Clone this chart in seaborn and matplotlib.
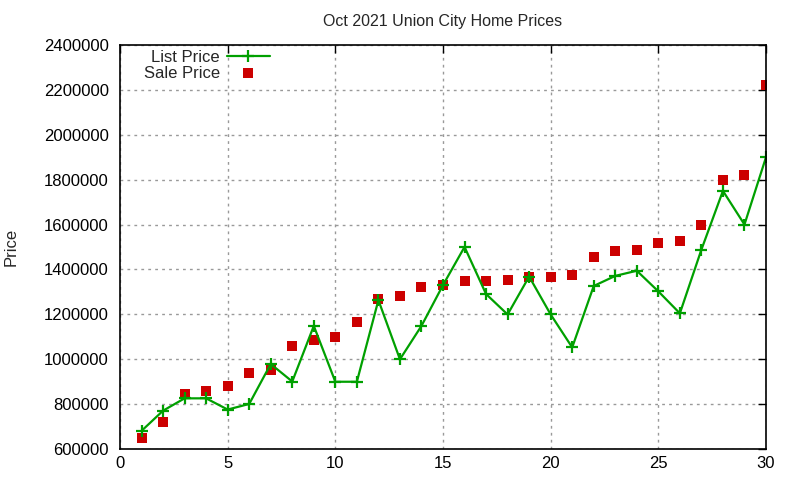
import numpy as np
import pandas as pd
import seaborn as sns
import matplotlib
matplotlib.use("Agg")
import matplotlib.pyplot as plt

# Oct 2021 Union City home sales
dias = list(range(1, 31))
list_price = [680000, 770000, 825000, 825000, 775000, 800000, 978000, 900000, 1148000, 899000,
              899000, 1263000, 999000, 1148000, 1330000, 1500000, 1290000, 1199000, 1368000, 1199000,
              1052000, 1326000, 1371000, 1394000, 1302000, 1204000, 1488000, 1750000, 1600000, 1900000]
sale_price = [650000, 720000, 845000, 857000, 880000, 938000, 952000, 1060000, 1086000, 1100000,
              1166000, 1268000, 1282000, 1322000, 1331000, 1350000, 1350000, 1353000, 1364000, 1364000,
              1376000, 1456000, 1482000, 1487000, 1519000, 1528000, 1599000, 1800000, 1822000, 2222000]

df = pd.DataFrame({"dia": dias, "list": list_price, "sale": sale_price})

sns.set_style("white")
plt.rcParams["font.family"] = ["Liberation Sans", "DejaVu Sans"]

fig = plt.figure(figsize=(8, 4.8), dpi=100)
ax = fig.add_axes([0.15, 0.065, 0.8075, 0.841])

sns.lineplot(x="dia", y="list", data=df, ax=ax, color="#00a000", linewidth=1.6,
             marker="+", markersize=9, markeredgewidth=1.6, markeredgecolor="#00a000",
             label="List Price")
sns.scatterplot(x="dia", y="sale", data=df, ax=ax, color="#cc0000", marker="s", s=60,
                linewidth=0, label="Sale Price")

ax.set_xlim(0, 30)
ax.set_ylim(600000, 2400000)
ax.set_xticks(range(0, 31, 5))
ax.set_yticks(range(600000, 2400001, 200000))
ax.ticklabel_format(style="plain", axis="y")
ax.tick_params(direction="in", length=6, width=1, top=True, right=True, labelsize=12, colors="black")
ax.tick_params(axis="y", pad=8)
ax.tick_params(axis="x", pad=5)
ax.grid(True, linestyle=(0, (2, 3)), color="#999999", linewidth=1)
for s in ax.spines.values():
    s.set_color("black")
    s.set_linewidth(1.2)

ax.set_title("Oct 2021 Union City Home Prices", fontsize=11.5, pad=14)
ax.set_xlabel("")
ax.set_ylabel("Price", fontsize=12, labelpad=18)

# leyenda estilo gnuplot: texto a la derecha alineado, marcador despues
ax.legend(loc="upper right", bbox_to_anchor=(270 / 800, 1 - 50 / 480), bbox_transform=fig.transFigure,
          frameon=False, markerfirst=False, fontsize=12, handlelength=2.6, handletextpad=0.4,
          borderaxespad=0, borderpad=0, labelspacing=0.05)

fig.savefig("out.png", dpi=100)
